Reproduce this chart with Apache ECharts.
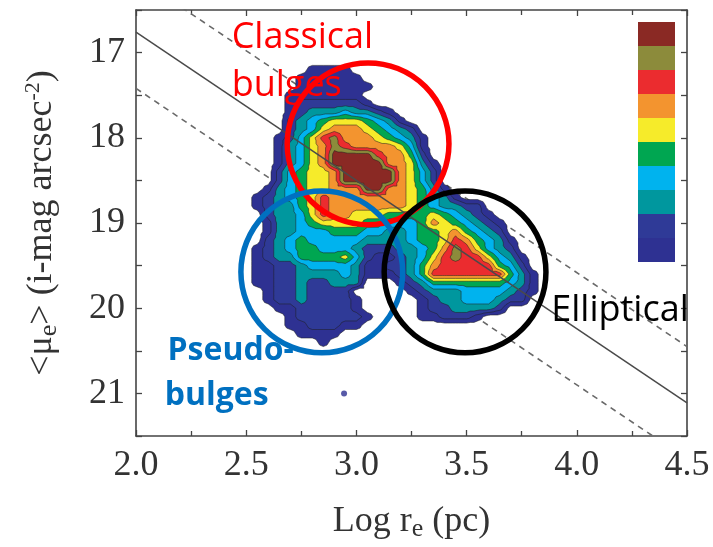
<!DOCTYPE html>
<html>
<head>
<meta charset="utf-8">
<script src="https://cdn.jsdelivr.net/npm/echarts@6/dist/echarts.min.js"></script>
<style>
  html, body { margin: 0; padding: 0; background: #ffffff; }
  #chart { width: 713px; height: 547px; }
</style>
</head>
<body>
<div id="chart"></div>
<script>
// Grid nodes of the galaxy density map: log r_e (pc) and <mu_e> (i-mag arcsec^-2)
const densityX = [2.30, 2.35, 2.40, 2.45, 2.50, 2.55, 2.60, 2.65, 2.70, 2.75, 2.80, 2.85,
                  2.90, 2.95, 3.00, 3.05, 3.10, 3.15, 3.20, 3.25, 3.30, 3.35, 3.40, 3.45,
                  3.50, 3.55, 3.60, 3.65, 3.70, 3.75, 3.80, 3.85, 3.90, 3.95];
const densityY = [17.1, 17.2, 17.3, 17.4, 17.5, 17.6, 17.7, 17.8, 17.9, 18.0, 18.1, 18.2,
                  18.3, 18.4, 18.5, 18.6, 18.7, 18.8, 18.9, 19.0, 19.1, 19.2, 19.3, 19.4,
                  19.5, 19.6, 19.7, 19.8, 19.9, 20.0, 20.1, 20.2, 20.3, 20.4, 20.5];
// Density level per node (one row per densityY value, one hex digit per densityX value;
// 0 = no galaxies, 1..a = contour level 1..10)
const densityRows = [
  "0000000000000000000000000000000000",
  "0000000000111100000000000000000000",
  "0000000001111110000000000000000000",
  "0000000001111111000000000000000000",
  "0000000011111110000000000000000000",
  "0000000012222221000000000000000000",
  "0000000012333433210000000000000000",
  "0000000023456665431000000000000000",
  "0000000023467776543200000000000000",
  "0000000124689777654310000000000000",
  "0000000134679877776410000000000000",
  "000000013467aaaa877520000000000000",
  "000000013467aaaaa77631000000000000",
  "0000000245667aaaaa7642000000000000",
  "0000000245667aaaaa7642000000000000",
  "000000134566777aa77653100000000000",
  "0000012345687777777654310000000000",
  "0000012335687777777654332200000000",
  "0000002334687766655556543210000000",
  "0000001334566665544457654321000000",
  "0000001334445554433455675432000000",
  "0000002345444443333455687543100000",
  "0000012345544432223345798643200000",
  "0000012335555642112346898864310000",
  "0000011223444431122357888885420000",
  "0000011223333431112358888888531000",
  "0000011223223330001235555555431000",
  "0000001223222200000123334444321000",
  "0000001223222210000012334443220000",
  "0000000112222210000012233332000000",
  "0000000012222221000011222100000000",
  "0000000011222110000000000000000000",
  "0000000001111000000000000000000000",
  "0000000000010000000000000000000000",
  "0000000000000000000000000000000000"
];
// A single galaxy outside the contoured region
const isolatedGalaxies = [[2.944, 21.0]];

// Kormendy-type relation and its scatter envelope (endpoints at the axis limits)
const fitLine = [[2.0, 16.76], [4.5, 21.11]];
const envelopeUpper = [[2.0, 16.11], [4.5, 20.45]];
const envelopeLower = [[2.0, 17.42], [4.5, 21.77]];

// Population groupings: circle centre (log r_e, <mu_e>) and radius in dex of log r_e
const groupNames = ['Classical bulges', 'Pseudo-bulges', 'Elliptical'];
const groupCenters = [[3.053, 18.07], [2.843, 19.574], [3.493, 19.574]];
const groupRadius = [0.367, 0.367, 0.367];

// Annotation lines and their anchor points (left edge, vertical middle)
const noteLines = ['Classical', 'bulges', 'Pseudo-', 'bulges', 'Elliptical'];
const noteAnchors = [[2.434, 16.83], [2.434, 17.39], [2.143, 20.50], [2.130, 21.03], [3.884, 20.03]];
const noteGroup = [0, 0, 1, 1, 2];

// Axis tick labels
const xTickLabels = [2.0, 2.5, 3.0, 3.5, 4.0, 4.5];
const yTickLabels = [17, 18, 19, 20, 21];

// ---- styles ----
const levelColors = ['#2e3192', '#2f3a97', '#00979e', '#00b3ee', '#00a651',
                     '#f6eb2a', '#f3942f', '#eb2c2f', '#8c8b3b', '#8a2924'];
const groupColors = ['#ff0000', '#0070c0', '#000000'];
const noteFont = [
  { fontFamily: 'Open Sans', fontSize: 36, fontWeight: 'normal' },
  { fontFamily: 'Open Sans', fontSize: 32, fontWeight: 'bold' },
  { fontFamily: 'Open Sans', fontSize: 36, fontWeight: 'normal' }
];
const serif = 'Liberation Serif';
const frameColor = '#444';
const textColor = '#333';

// Filled contours: each grid cell is split into four triangles around its centre,
// and the part of each triangle above a level threshold is filled with linear interpolation.
function renderDensity(params, api) {
  const values = densityRows.map(row =>
    densityX.map((_, c) => parseInt(row.charAt(c), 16) || 0));
  const pts = densityY.map(y => densityX.map(x => api.coord([x, y])));
  const fills = levelColors.map(() => []);
  const isolines = [];
  const fmt = n => n.toFixed(2);
  const ptStr = p => fmt(p[0]) + ' ' + fmt(p[1]);

  function clipTriangle(tri, t, out) {
    const poly = [];
    const cross = [];
    for (let i = 0; i < 3; i++) {
      const [p, a] = tri[i];
      const [q, b] = tri[(i + 1) % 3];
      if (a >= t) poly.push(p);
      if ((a >= t) !== (b >= t)) {
        const s = (t - a) / (b - a);
        const m = [p[0] + s * (q[0] - p[0]), p[1] + s * (q[1] - p[1])];
        poly.push(m);
        cross.push(m);
      }
    }
    if (poly.length >= 3) out.push('M' + poly.map(ptStr).join('L') + 'Z');
    if (cross.length === 2) isolines.push('M' + ptStr(cross[0]) + 'L' + ptStr(cross[1]));
  }

  for (let r = 0; r < densityY.length - 1; r++) {
    for (let c = 0; c < densityX.length - 1; c++) {
      const corners = [
        [pts[r][c], values[r][c]],
        [pts[r][c + 1], values[r][c + 1]],
        [pts[r + 1][c + 1], values[r + 1][c + 1]],
        [pts[r + 1][c], values[r + 1][c]]
      ];
      const vs = corners.map(k => k[1]);
      const vmax = Math.max(...vs);
      if (vmax === 0) continue;
      const vmin = Math.min(...vs);
      const centre = [
        (corners[0][0][0] + corners[1][0][0] + corners[2][0][0] + corners[3][0][0]) / 4,
        (corners[0][0][1] + corners[1][0][1] + corners[2][0][1] + corners[3][0][1]) / 4
      ];
      const cv = (vs[0] + vs[1] + vs[2] + vs[3]) / 4;
      for (let k = 1; k <= levelColors.length; k++) {
        const t = k - 0.5;
        if (vmax < t) break;
        if (vmin >= t) {
          fills[k - 1].push('M' + corners.map(q => ptStr(q[0])).join('L') + 'Z');
          continue;
        }
        for (let e = 0; e < 4; e++) {
          clipTriangle([corners[e], corners[(e + 1) % 4], [centre, cv]], t, fills[k - 1]);
        }
      }
    }
  }

  const children = [];
  fills.forEach((parts, i) => {
    if (!parts.length) return;
    children.push({
      type: 'path',
      shape: { pathData: parts.join('') },
      style: { fill: levelColors[i], stroke: null }
    });
  });
  children.push({
    type: 'path',
    shape: { pathData: isolines.join('') },
    style: { fill: null, stroke: '#1e1e1e', lineWidth: 0.7, opacity: 0.75 }
  });
  return { type: 'group', children: children };
}

function renderCircle(params, api) {
  const i = params.dataIndex;
  const c = api.coord([api.value(0), api.value(1)]);
  const r = api.size([groupRadius[i], 0])[0];
  return {
    type: 'circle',
    shape: { cx: c[0], cy: c[1], r: r },
    style: { fill: null, stroke: groupColors[i], lineWidth: 5.5 }
  };
}

function renderNote(params, api) {
  const i = params.dataIndex;
  const c = api.coord([api.value(0), api.value(1)]);
  const g = noteGroup[i];
  return {
    type: 'text',
    x: c[0],
    y: c[1],
    style: {
      text: noteLines[i],
      fill: groupColors[g],
      fontFamily: noteFont[g].fontFamily,
      fontSize: noteFont[g].fontSize,
      fontWeight: noteFont[g].fontWeight,
      align: 'left',
      verticalAlign: 'middle'
    }
  };
}

const tickStyle = { show: true, inside: true, length: 6, lineStyle: { color: frameColor, width: 1.3 } };
const lineStyleFrame = { show: true, lineStyle: { color: frameColor, width: 1.6 } };
const labelStyle = { fontFamily: serif, fontSize: 36, color: textColor };

const chart = echarts.init(document.getElementById('chart'), null, { renderer: 'canvas' });
chart.setOption({
  animation: false,
  backgroundColor: '#ffffff',
  grid: { left: 136, right: 26, top: 10, bottom: 111 },
  xAxis: [
    {
      type: 'value', position: 'bottom', min: 2.0, max: 4.5, interval: 0.5,
      axisLine: lineStyleFrame,
      axisTick: tickStyle,
      minorTick: { show: true, splitNumber: 2, length: 5, lineStyle: { color: frameColor, width: 1.3 } },
      splitLine: { show: false },
      axisLabel: Object.assign({}, labelStyle, {
        margin: 12,
        formatter: v => (xTickLabels.some(t => Math.abs(t - v) < 1e-6) ? v.toFixed(1) : '')
      }),
      name: 'Log r{sub|e} (pc)',
      nameLocation: 'middle',
      nameGap: 66,
      nameTextStyle: {
        fontFamily: serif, fontSize: 36, color: textColor, lineHeight: 40,
        rich: { sub: { fontFamily: serif, fontSize: 26, color: textColor, verticalAlign: 'bottom', lineHeight: 40 } }
      }
    },
    {
      type: 'value', position: 'top', min: 2.0, max: 4.5, interval: 0.5,
      axisLine: lineStyleFrame,
      axisTick: tickStyle,
      minorTick: { show: true, splitNumber: 2, length: 5, lineStyle: { color: frameColor, width: 1.3 } },
      splitLine: { show: false },
      axisLabel: { show: false }
    }
  ],
  yAxis: [
    {
      type: 'value', position: 'left', min: 16.5, max: 21.5, interval: 0.5, inverse: true,
      axisLine: lineStyleFrame,
      axisTick: tickStyle,
      splitLine: { show: false },
      axisLabel: Object.assign({}, labelStyle, {
        margin: 11,
        formatter: v => (yTickLabels.some(t => Math.abs(t - v) < 1e-6) ? String(Math.round(v)) : '')
      }),
      name: '<μ{sub|e}> (i-mag arcsec{sup|-2})',
      nameLocation: 'middle',
      nameGap: 74,
      nameTextStyle: {
        fontFamily: serif, fontSize: 36, color: textColor, lineHeight: 40,
        rich: {
          sub: { fontFamily: serif, fontSize: 26, color: textColor, verticalAlign: 'bottom', lineHeight: 40 },
          sup: { fontFamily: serif, fontSize: 22, color: textColor, verticalAlign: 'top', lineHeight: 40 }
        }
      }
    },
    {
      type: 'value', position: 'right', min: 16.5, max: 21.5, interval: 0.5, inverse: true,
      axisLine: lineStyleFrame,
      axisTick: tickStyle,
      splitLine: { show: false },
      axisLabel: { show: false }
    }
  ],
  visualMap: {
    type: 'piecewise',
    seriesIndex: [],
    orient: 'vertical',
    left: 638,
    top: 22,
    padding: 0,
    itemWidth: 37,
    itemHeight: 24,
    itemGap: 0,
    itemSymbol: 'rect',
    showLabel: false,
    selectedMode: false,
    hoverLink: false,
    pieces: levelColors.map((color, i) => ({ min: i + 0.5, max: i + 1.5, color: color }))
  },
  series: [
    {
      name: 'envelope upper', type: 'line', data: envelopeUpper, showSymbol: false, clip: true, z: 1,
      lineStyle: { color: '#6a6a6a', width: 1.6, type: [6, 5] }, silent: true
    },
    {
      name: 'envelope lower', type: 'line', data: envelopeLower, showSymbol: false, clip: true, z: 1,
      lineStyle: { color: '#6a6a6a', width: 1.6, type: [6, 5] }, silent: true
    },
    {
      name: 'density', type: 'custom', coordinateSystem: 'cartesian2d', z: 2, silent: true,
      data: [[densityX[0], densityY[0]]], renderItem: renderDensity
    },
    {
      name: 'isolated', type: 'scatter', data: isolatedGalaxies, symbol: 'circle', symbolSize: 6, z: 3,
      itemStyle: { color: levelColors[0] }, silent: true
    },
    {
      name: 'relation', type: 'line', data: fitLine, showSymbol: false, clip: true, z: 3,
      lineStyle: { color: '#4a4a4a', width: 1.5 }, silent: true
    },
    {
      name: 'groups', type: 'custom', coordinateSystem: 'cartesian2d', z: 4, silent: true,
      data: groupCenters.map((c, i) => [c[0], c[1], i]), renderItem: renderCircle
    },
    {
      name: 'notes', type: 'custom', coordinateSystem: 'cartesian2d', z: 5, silent: true,
      data: noteAnchors.map((a, i) => [a[0], a[1], i]), renderItem: renderNote
    }
  ]
});
</script>
</body>
</html>
